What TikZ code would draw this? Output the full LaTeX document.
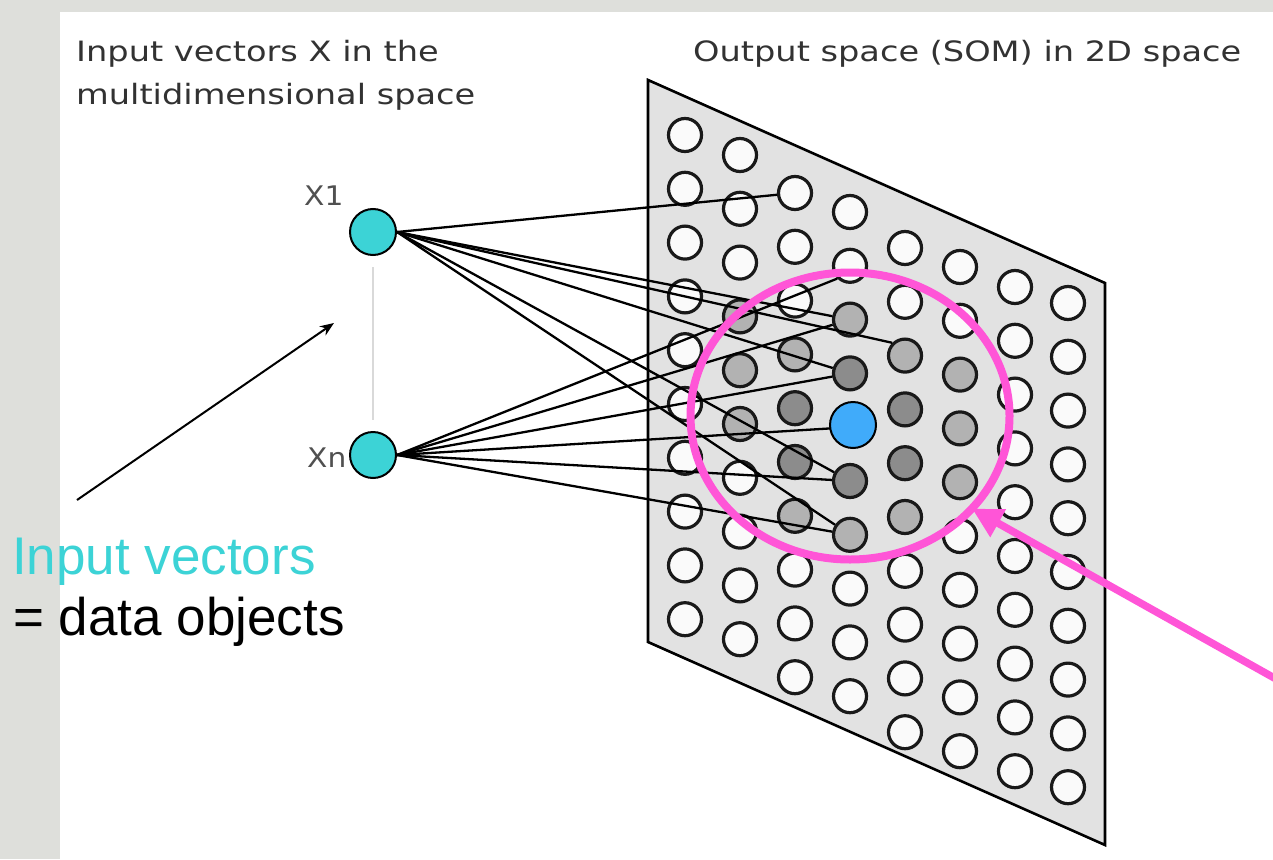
\documentclass[tikz,border=0pt]{standalone}
\usepackage{fontspec}
\usepackage{graphicx}
\setmainfont{Liberation Sans}
\newfontfamily\verd{DejaVu Sans}
\usetikzlibrary{arrows.meta,shapes.geometric}
\definecolor{turq}{RGB}{60,211,214}
\definecolor{bluedot}{RGB}{64,171,250}
\definecolor{pinkc}{RGB}{255,85,215}
\definecolor{planefill}{RGB}{226,226,226}
\definecolor{cellwhite}{RGB}{250,250,250}
\definecolor{cellline}{RGB}{25,25,25}
\definecolor{dkgray}{RGB}{140,140,140}
\definecolor{mdgray}{RGB}{178,178,178}
\definecolor{stripgray}{RGB}{222,223,219}
\definecolor{headtext}{RGB}{50,50,50}
\definecolor{xlabtext}{RGB}{80,80,80}
\begin{document}
\begin{tikzpicture}[x=1pt,y=-1pt,
  cell/.style={circle,draw=cellline,line width=3.2pt,fill=cellwhite,minimum size=33pt,inner sep=0pt},
  c13/.style={fill=mdgray}, c14/.style={fill=mdgray}, c15/.style={fill=mdgray},
  c23/.style={fill=mdgray}, c24/.style={fill=dkgray}, c25/.style={fill=dkgray}, c26/.style={fill=mdgray},
  c32/.style={fill=mdgray}, c33/.style={fill=dkgray}, c35/.style={fill=dkgray}, c36/.style={fill=mdgray},
  c42/.style={fill=mdgray}, c43/.style={fill=dkgray}, c44/.style={fill=dkgray}, c45/.style={fill=mdgray},
  c52/.style={fill=mdgray}, c53/.style={fill=mdgray}, c54/.style={fill=mdgray},
  innode/.style={circle,draw=black,line width=2pt,fill=turq,minimum size=46pt,inner sep=0pt},
  link/.style={black,line width=2.3pt},
  head/.style={text=headtext,inner sep=0pt,anchor=base west,font=\verd\fontsize{28}{34}\selectfont},
  xlab/.style={text=xlabtext,inner sep=0pt,anchor=base west,font=\verd\fontsize{27}{32}\selectfont},
  big/.style={inner sep=0pt,anchor=base west,font=\fontsize{53}{60}\selectfont},
]
\path[use as bounding box] (0,0) rectangle (1273,859);
\fill[white] (0,0) rectangle (1273,859);
\fill[stripgray] (0,0) rectangle (60,859);
\fill[stripgray] (0,0) rectangle (1273,12);

% headings
\node[head] (h1) at (76,61) {\scalebox{1.2}[1]{Input vectors X in the}};
\node[head] (h2) at (76,104) {\scalebox{1.2}[1]{multidimensional space}};
\node[head] (h3) at (693,62) {\scalebox{1.2}[1]{Output space (SOM) in 2D space}};

% SOM plane
\filldraw[fill=planefill,draw=black,line width=2.6pt] (648,80) -- (1105,283) -- (1105,845) -- (648,642) -- cycle;

% grid of map units
\foreach \i/\cx/\ty in {0/685/135,1/740/155,2/795/193,3/850/212,4/905/248,5/960/267,6/1015/287,7/1068/303}{
  \foreach \j in {0,...,9}{
    \node[cell,c\i\j/.try] (c\i\j) at (\cx,{\ty+53.8*\j}) {};
  }
}

% input labels and nodes
\node[xlab] (lx1) at (304,205) {\scalebox{1.1}[1]{X1}};
\node[xlab] (lxn) at (307,467) {\scalebox{1.1}[1]{Xn}};
\node[innode] (x1) at (373,232) {};
\node[innode] (xn) at (373,455) {};
\draw[black!15,line width=2.5pt,shorten <=11pt,shorten >=11pt] (x1.south) -- (xn.north);

% connections
\foreach \t in {c20,c32,c42.north west,c33,c35,c36}{
  \draw[link] (x1.east) -- (\t);
}
\foreach \t in {c31.south west,c32,c33,c34,c35,c36}{
  \draw[link] (xn.east) -- (\t);
}

% winner node
\node[circle,draw=black,line width=2pt,fill=bluedot,minimum size=46pt,inner sep=0pt] (bmu) at (853,425) {};

% neighbourhood
\node[ellipse,draw=pinkc,line width=8pt,minimum width=319pt,minimum height=287pt,inner sep=0pt] (nbhd) at (850,416) {};
\coordinate (psrc) at (1310,698);
\draw[pinkc,line width=7.5pt,shorten >=-4pt,-{Triangle[length=30pt,width=30pt]}] (psrc) -- (nbhd.-37);

% bottom-left annotation
\node[big,text=turq] (iv) at (12,574) {Input vectors};
\node[big,text=black] (dobj) at (13,635) {= data objects};
\coordinate (ia0) at (77,500);
\coordinate (ia1) at (334,323);
\draw[black,line width=2pt,-{Stealth[length=14pt,width=11pt]}] (ia0) -- (ia1);
\end{tikzpicture}
\end{document}
